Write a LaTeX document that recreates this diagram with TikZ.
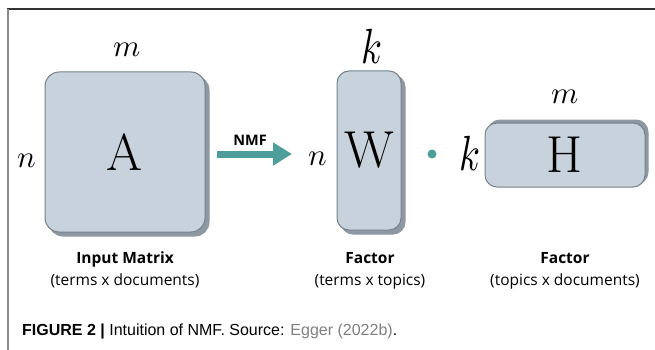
\documentclass[tikz,border=0pt]{standalone}
\usepackage{fontspec}
\usepackage{unicode-math}
\setmathfont{Latin Modern Math}
\newfontfamily\labelfont{Open Sans}
\newfontfamily\capfont{Liberation Sans}
\usetikzlibrary{arrows.meta,shadows}
\definecolor{boxfill}{HTML}{C8D2DC}
\definecolor{boxline}{HTML}{76818C}
\definecolor{boxshadow}{HTML}{8E98A2}
\definecolor{tealc}{HTML}{4D9E9B}
\definecolor{capgray}{HTML}{808080}
\tikzset{
  mat/.style={draw=boxline, fill=boxfill, line width=1pt, rounded corners=14pt, inner sep=0pt,
    font=\fontsize{52}{52}\selectfont},
  shdown/.style={general shadow={shadow xshift=4pt, shadow yshift=-4pt, fill=boxshadow, draw=boxshadow}},
  shup/.style={general shadow={shadow xshift=3pt, shadow yshift=3pt, fill=boxshadow, draw=boxshadow}},
  dimlab/.style={inner sep=0pt, anchor=base, font=\fontsize{31}{31}\selectfont},
  klab/.style={inner sep=0pt, anchor=base, font=\fontsize{38}{38}\selectfont},
  ttl/.style={inner sep=0pt, anchor=base, font=\labelfont\bfseries\fontsize{15.5}{15.5}\selectfont},
  sub/.style={inner sep=0pt, anchor=base, font=\labelfont\fontsize{15.5}{15.5}\selectfont},
}
\newcommand{\tallk}{\scalebox{1}[1.3]{$k$}}
\begin{document}
\begin{tikzpicture}[x=1pt, y=-1pt]
\useasboundingbox (0,0) rectangle (655,350);
% frame
\draw[draw=black!80, line width=1.5pt] (7,9) -- (655,9);
\draw[draw=black!45, line width=2pt] (7.5,9) -- (7.5,350);
% matrices
\node[mat, shdown, minimum width=160pt, minimum height=160pt] (A) at (125,152) {A};
\node[mat, shdown, rounded corners=12pt, minimum width=64pt, minimum height=159pt] (W) at (369,150.5) {W};
\node[mat, shup, rounded corners=12pt, minimum width=160pt, minimum height=64pt] (H) at (565,155) {H};
% dimension letters
\node[dimlab] (mA) at (127,57) {$m$};
\node[dimlab] (nA) at (27,167) {$n$};
\node[dimlab] (nW) at (318,165) {$n$};
\node[klab] (kW) at (372,64) {\tallk};
\node[klab] (kH) at (470,170) {\tallk};
\node[dimlab] (mH) at (565,103) {$m$};
% arrow
\coordinate (arrS) at (217,154);
\coordinate (arrE) at (292,154);
\draw[tealc, line width=7pt, -{Triangle[width=22pt, length=19pt]}] (arrS) -- (arrE);
\node[inner sep=0pt, anchor=base, font=\labelfont\bfseries\fontsize{14.5}{14.5}\selectfont] (nmf) at (250,145) {NMF};
% dot
\node[circle, fill=tealc, minimum size=9pt, inner sep=0pt] (dot) at (432,154) {};
% labels
\node[ttl] (tA) at (125,263) {Input Matrix};
\node[sub] (sA) at (125,285) {(terms x documents)};
\node[ttl] (tW) at (370,263) {Factor};
\node[sub] (sW) at (370,285) {(terms x topics)};
\node[ttl] (tH) at (565,263) {Factor};
\node[sub] (sH) at (565,285) {(topics x documents)};
% caption
\node[inner sep=0pt, anchor=base west, font=\capfont\fontsize{16}{16}\selectfont] (cap) at (22,335)
  {\textbf{FIGURE 2 |} Intuition of NMF. Source: \textcolor{capgray}{Egger (2022b)}.};
\end{tikzpicture}
\end{document}
